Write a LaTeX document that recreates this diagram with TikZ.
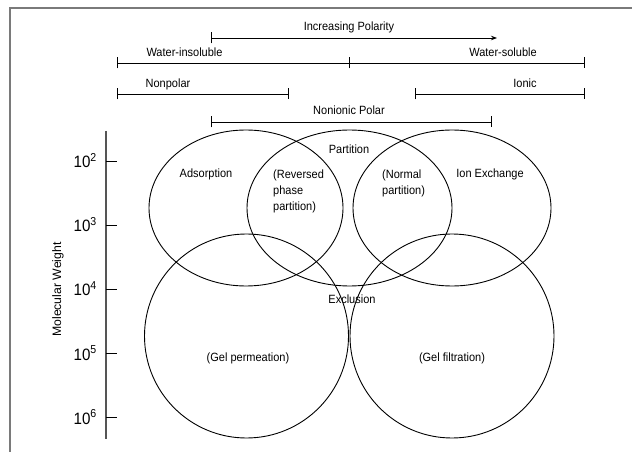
\documentclass[tikz,border=0pt]{standalone}
\usepackage{fontspec}
\setmainfont{Liberation Sans}[FakeStretch=0.92]
\newfontfamily\widesans{Liberation Sans}
\usepackage{tikz}
\usetikzlibrary{arrows.meta}
\definecolor{framegray}{HTML}{7A7A7A}
\definecolor{axisgray}{HTML}{555555}

\begin{document}
\begin{tikzpicture}[x=1bp,y=-1bp,
  lbl/.style={font=\fontsize{12}{16}\selectfont,inner sep=0pt},
  rng/.style={line width=0.9bp,{Bar[width=11bp]}-{Bar[width=11bp]}},
  zone/.style={line width=0.9bp}]
  \useasboundingbox (0,0) rectangle (632,452);
  \draw[framegray,line width=1.3bp] (10,452) -- (10,8) -- (632,8);

  % polarity scale
  \coordinate (pl) at (210.5,38);
  \coordinate (pr) at (497,38);
  \draw[line width=0.9bp,{Bar[width=11bp]}-{Stealth[length=6bp,width=4.5bp]}] (pl) -- (pr);
  \node[lbl,anchor=base] (polarity) at (349,31) {Increasing Polarity};

  \coordinate (wl) at (117,63);
  \coordinate (wm) at (349,63);
  \coordinate (wr) at (585,63);
  \draw[rng] (wl) -- (wr);
  \draw[line width=0.9bp] ([yshift=-5.5bp]wm) -- ([yshift=5.5bp]wm);
  \node[lbl,anchor=base] (insol) at (184.5,57) {Water-insoluble};
  \node[lbl,anchor=base] (sol) at (503,57) {Water-soluble};

  \coordinate (npl) at (117,94);
  \coordinate (npr) at (289,94);
  \draw[rng] (npl) -- (npr);
  \node[lbl,anchor=base] (nonpolar) at (168,87.5) {Nonpolar};
  \coordinate (il) at (415,94);
  \coordinate (ir) at (585,94);
  \draw[rng] (il) -- (ir);
  \node[lbl,anchor=base] (ionic) at (525,87.5) {Ionic};

  \coordinate (nnl) at (210.5,122);
  \coordinate (nnr) at (492,122);
  \draw[rng] (nnl) -- (nnr);
  \node[lbl,anchor=base] (nonionic) at (349,115) {Nonionic Polar};

  % molecular weight axis
  \draw[axisgray,line width=1.4bp] (106,131) -- (106,439);
  \foreach \e [count=\i from 0] in {2,...,6}{
    \draw[line width=0.9bp] (106,161+64*\i) -- (117,161+64*\i);
    \node[anchor=base east,inner sep=0pt,font=\fontsize{16.5}{18}\selectfont]
      (e\e) at (97,168+64*\i) {10\textsuperscript{\e}};
  }
  \node[lbl,rotate=90,font=\widesans\fontsize{12.3}{14}\selectfont] (mw) at (58,289.5) {Molecular Weight};

  % separation modes
  \draw[zone] (246,208) ellipse [x radius=97,y radius=78];
  \draw[zone] (349.5,208) ellipse [x radius=102.5,y radius=78];
  \draw[zone] (452,208) ellipse [x radius=99,y radius=78];
  \draw[zone] (246.5,336) circle [radius=102];
  \draw[zone] (452,336) circle [radius=102];

  \node[lbl,anchor=base] (partition) at (349,153.5) {Partition};
  \node[lbl,anchor=base] (adsorption) at (206,177.5) {Adsorption};
  \node[lbl,anchor=north west,align=left] (reversed) at (273,169.5) {(Reversed\\phase\\partition)};
  \node[lbl,anchor=north west,align=left] (normal) at (382,169.5) {(Normal\\partition)};
  \node[lbl,anchor=base] (ionex) at (490,177.5) {Ion Exchange};
  \node[lbl,anchor=base] (exclusion) at (352,303.5) {Exclusion};
  \node[lbl,anchor=base] (gelperm) at (248,361) {(Gel permeation)};
  \node[lbl,anchor=base] (gelfilt) at (452,361) {(Gel filtration)};
\end{tikzpicture}
\end{document}
